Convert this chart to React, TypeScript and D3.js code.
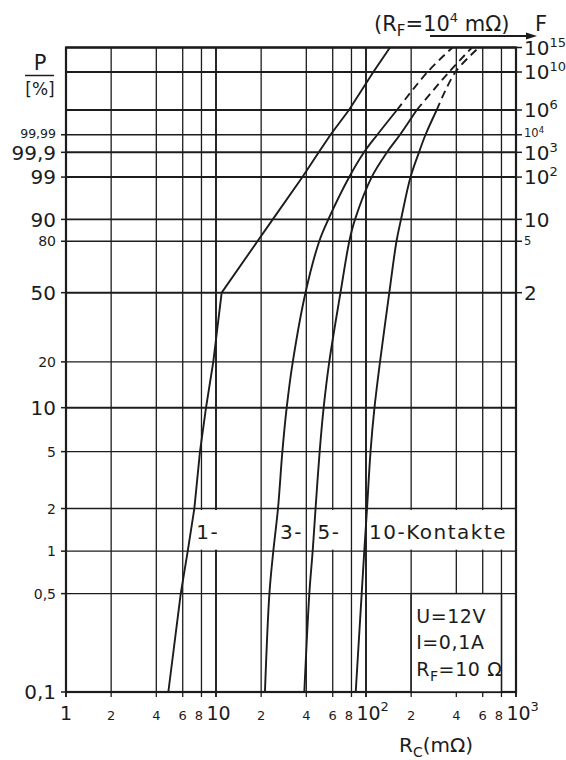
import React from 'react';
import * as d3 from 'd3';

const W = 566;
const H = 760;
const FONT = '"DejaVu Sans", "Liberation Sans", sans-serif';
const INK = '#1c1c1c';

// ---- x axis: contact resistance R_C (mΩ), log scale ----
const xGrid = [1, 2, 4, 6, 8, 10, 20, 40, 60, 80, 100, 200, 400, 600, 800, 1000];
const xLabelBase = ['1', '2', '4', '6', '8', '10', '2', '4', '6', '8', '10', '2', '4', '6', '8', '10'];
const xLabelExp = ['', '', '', '', '', '', '', '', '', '', '2', '', '', '', '', '3'];
const xLabelBig = [1, 0, 0, 0, 0, 1, 0, 0, 0, 0, 1, 0, 0, 0, 0, 1];
const xMajor = [1, 10, 100, 1000];

// ---- left axis: cumulative probability P (%) on Weibull paper ----
const pGrid = [0.1, 0.5, 1, 2, 5, 10, 20, 50, 80, 90, 99, 99.9, 99.99];
const pLabels = ['0,1', '0,5', '1', '2', '5', '10', '20', '50', '80', '90', '99', '99,9', '99,99'];
const pBig = [1, 0, 0, 0, 0, 1, 0, 1, 0, 1, 1, 1, 0];

// ---- right axis: F ----
const fTicks = [2, 5, 10, 1e2, 1e3, 1e4, 1e6, 1e10, 1e15];
const fBase = ['2', '5', '10', '10', '10', '10', '10', '10', '10'];
const fExp = ['', '', '', '2', '3', '4', '6', '10', '15'];
const fBig = [1, 0, 1, 1, 1, 0, 1, 1, 1];
const fExtraGrid = [1e6, 1e10, 1e15];

// ---- curves: R_C (mΩ) read at the levels pGrid followed by fExtraGrid ----
const curve1 = [4.81, 5.82, 6.48, 7.17, 7.82, 8.58, 9.59, 10.91, 18.9, 23.9, 37.7, 48.4, 58.0, 77.0, 111.9, 144.5];
const curve3 = [21.2, 22.7, 24.1, 25.9, 27.7, 29.6, 32.5, 39.5, 48.8, 56.1, 77.3, 97.0, 118.9, 160.9, 257, 377];
const curve5 = [38.8, 41.9, 44.1, 46.1, 49.1, 52.2, 56.9, 67.6, 77.4, 84.5, 109.1, 138.0, 168.5, 217.8, 357.6, 508.8];
const curve10 = [85.4, 93.6, 97.4, 101.6, 107.2, 113.9, 124.0, 143.0, 159.7, 171.2, 198.1, 225.6, 249.3, 296, 395, 566.7];
const curveNames = ['1-', '3-', '5-', '10-Kontakte'];
const curveDashedTop = [false, true, true, true];

const legendLines = ['U=12V', 'I=0,1A', 'R_F=10 Ω'];

// Weibull transforms
const wP = (p: number) => Math.log(-Math.log1p(-p / 100));
const wF = (f: number) => Math.log(Math.log(f));

const xScale = d3.scaleLog().domain([1, 1000]).range([66, 516]);
const yScale = d3
  .scaleLinear()
  .domain([wP(0.1), wF(1e6), wF(1e10), wF(1e15)])
  .range([692, 110, 72, 47.5]);

const levelY = (i: number) =>
  i < pGrid.length ? yScale(wP(pGrid[i])) : yScale(wF(fExtraGrid[i - pGrid.length]));

let _ctx: CanvasRenderingContext2D | null = null;
function measure(text: string, size: number, ls = 0) {
  if (!_ctx) _ctx = document.createElement('canvas').getContext('2d');
  if (!_ctx) return text.length * size * 0.6;
  _ctx.font = `${size}px "DejaVu Sans"`;
  return _ctx.measureText(text).width + ls * text.length;
}

const BIG = 20;
const SMALL = 14;

export default function App() {
  const x0 = xScale(1);
  const x1 = xScale(1000);
  const yBot = yScale(wP(0.1));
  const yTop = yScale(wF(1e15));

  const hGrid: { y: number; major: boolean }[] = [
    ...pGrid.map((p, i) => ({ y: yScale(wP(p)), major: !!pBig[i] })),
    ...fExtraGrid.map((f) => ({ y: yScale(wF(f)), major: true })),
  ];

  const curves = [curve1, curve3, curve5, curve10];
  const lineSmooth = d3
    .line<[number, number]>()
    .x((d) => d[0])
    .y((d) => d[1])
    .curve(d3.curveCatmullRom.alpha(0.5));
  const lineStraight = d3
    .line<[number, number]>()
    .x((d) => d[0])
    .y((d) => d[1]);

  const y1 = yScale(wP(1));
  const y2 = yScale(wP(2));
  const splitIdx = pGrid.length; // index of 1e6 level

  const boxX0 = xScale(200);
  const boxX1 = xScale(800);
  const boxY0 = yScale(wP(0.5));

  return (
    <svg
      width={W}
      height={H}
      style={{ position: 'absolute', left: 0, top: 0, background: '#fff' }}
      fontFamily={FONT}
    >
      <rect x={0} y={0} width={W} height={H} fill="#fff" />
      {/* vertical grid */}
      {xGrid.map((v, i) => (
        <line
          key={'vg' + i}
          x1={xScale(v)}
          x2={xScale(v)}
          y1={yTop}
          y2={yBot + 5}
          stroke={INK}
          strokeWidth={xMajor.includes(v) ? 1.9 : 1.3}
        />
      ))}
      {/* horizontal grid */}
      {hGrid.map((g, i) => (
        <line
          key={'hg' + i}
          x1={x0}
          x2={x1}
          y1={g.y}
          y2={g.y}
          stroke={INK}
          strokeWidth={g.major ? 1.9 : 1.3}
        />
      ))}
      {/* left ticks */}
      {pGrid.map((p, i) => (
        <line key={'lt' + i} x1={x0 - 5} x2={x0} y1={yScale(wP(p))} y2={yScale(wP(p))} stroke={INK} strokeWidth={1.5} />
      ))}
      {/* right ticks */}
      {fTicks.map((f, i) => (
        <line key={'rt' + i} x1={x1} x2={x1 + 6} y1={yScale(wF(f))} y2={yScale(wF(f))} stroke={INK} strokeWidth={1.5} />
      ))}
      {/* frame */}
      <rect x={x0} y={yTop} width={x1 - x0} height={yBot - yTop} fill="none" stroke={INK} strokeWidth={2.2} />

      {/* legend box */}
      <rect x={boxX0} y={boxY0} width={boxX1 - boxX0} height={yBot - boxY0} fill="#fff" stroke={INK} strokeWidth={1.5} />
      {legendLines.map((t, i) => {
        const yy = boxY0 + 29 + i * 26.5;
        if (t.startsWith('R_F')) {
          return (
            <text key={'lg' + i} x={boxX0 + 5} y={yy} fontSize={19} fill={INK} letterSpacing={0.6}>
              R<tspan fontSize={14} dy={5}>F</tspan>
              <tspan dy={-5}>=10 Ω</tspan>
            </text>
          );
        }
        return (
          <text key={'lg' + i} x={boxX0 + 5} y={yy} fontSize={19} fill={INK} letterSpacing={0.6}>
            {t}
          </text>
        );
      })}

      {/* curve labels with white background */}
      {curves.map((c, i) => {
        const lx = xScale(c[3]) + 2;
        const w = measure(curveNames[i], BIG, 1.5);
        return (
          <g key={'cl' + i}>
            <rect x={lx - 1} y={y2 + 1.5} width={w + 2} height={y1 - y2 - 3} fill="#fff" />
            <text x={lx} y={y1 - 12} fontSize={BIG} fill={INK} letterSpacing={1.5}>
              {curveNames[i]}
            </text>
          </g>
        );
      })}

      {/* curves */}
      {curves.map((c, i) => {
        const pts: [number, number][] = c.map((r, k) => [xScale(r), levelY(k)]);
        if (!curveDashedTop[i]) {
          return <path key={'c' + i} d={lineStraight(pts) || ''} fill="none" stroke={INK} strokeWidth={1.9} />;
        }
        return (
          <g key={'c' + i}>
            <path d={lineSmooth(pts.slice(0, splitIdx + 1)) || ''} fill="none" stroke={INK} strokeWidth={1.9} />
            <path
              d={lineSmooth(pts.slice(splitIdx)) || ''}
              fill="none"
              stroke={INK}
              strokeWidth={1.9}
              strokeDasharray="8,5"
            />
          </g>
        );
      })}

      {/* left labels */}
      {pGrid.map((p, i) => {
        const s = pBig[i] ? BIG : pLabels[i] === '99,99' ? 12.5 : SMALL;
        const lift = pLabels[i] === '99,99' ? -1.5 : 0;
        return (
          <text
            key={'ll' + i}
            x={56}
            y={yScale(wP(p)) + s * 0.36 + lift}
            fontSize={s}
            textAnchor="end"
            fill={INK}
          >
            {pLabels[i]}
          </text>
        );
      })}

      {/* right labels */}
      {fTicks.map((f, i) => {
        const s = fBig[i] ? BIG : SMALL - 2.5;
        const lift = f === 1e4 ? -1.5 : 0;
        const yy = yScale(wF(f)) + s * 0.36 + lift;
        return (
          <text key={'rl' + i} x={x1 + 8} y={yy} fontSize={s} fill={INK}>
            {fBase[i]}
            {fExp[i] && (
              <tspan fontSize={fBig[i] ? 13 : 8.5} dy={fBig[i] ? -8 : -4.5}>
                {fExp[i]}
              </tspan>
            )}
          </text>
        );
      })}

      {/* bottom labels */}
      {xGrid.map((v, i) => {
        const big = !!xLabelBig[i];
        const s = big ? 19 : SMALL - 1;
        const bw = measure(xLabelBase[i], s);
        const shift = big ? (v === 1 ? 0 : 2.5) : xLabelBase[i] === '8' ? -2.5 : 0;
        const xx = xScale(v) - bw / 2 + shift;
        return (
          <text key={'bl' + i} x={xx} y={720} fontSize={s} fill={INK}>
            {xLabelBase[i]}
            {xLabelExp[i] && (
              <tspan fontSize={13} dy={-9}>
                {xLabelExp[i]}
              </tspan>
            )}
          </text>
        );
      })}

      {/* axis titles */}
      <text x={40} y={70} fontSize={21} textAnchor="middle" fill={INK}>
        P
      </text>
      <line x1={25} x2={54} y1={75.5} y2={75.5} stroke={INK} strokeWidth={1.5} />
      <text x={40} y={95} fontSize={17} textAnchor="middle" fill={INK}>
        [%]
      </text>

      <text x={399} y={752} fontSize={20} fill={INK}>
        R<tspan fontSize={14} dy={5}>C</tspan>
        <tspan dy={-5}>(mΩ)</tspan>
      </text>

      <text x={374} y={31} fontSize={21} fill={INK}>
        (R<tspan fontSize={15} dy={5}>F</tspan>
        <tspan dy={-5}>=10</tspan>
        <tspan fontSize={13} dy={-9}>4</tspan>
        <tspan dy={9}> mΩ)</tspan>
      </text>
      <line x1={430} x2={528} y1={36} y2={36} stroke={INK} strokeWidth={1.8} />
      <path d="M537,36 L526,32.5 L526,39.5 Z" fill={INK} />
      <text x={535} y={31} fontSize={21} fill={INK}>
        F
      </text>
    </svg>
  );
}
